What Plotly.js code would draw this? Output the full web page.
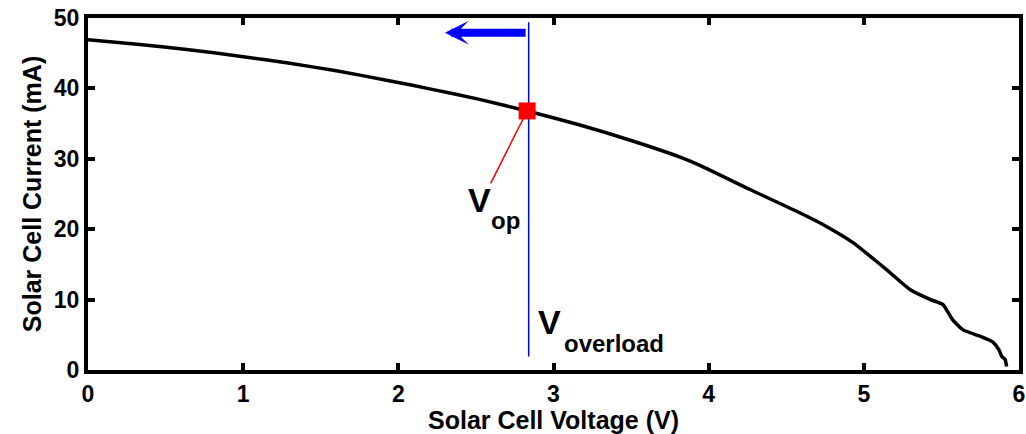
<!DOCTYPE html>
<html>
<head>
<meta charset="utf-8">
<script src="https://cdn.plot.ly/plotly-3.0.1.min.js"></script>
<style>html,body{margin:0;padding:0;background:#fff;}#chart{width:1026px;height:434px;}</style>
</head>
<body>
<div id="chart"></div>
<script>
// I-V curve of the solar cell
const voltage = [0, 0.30, 0.65, 1.00, 1.29, 1.60, 1.94, 2.21, 2.53, 2.83, 3.17, 3.50, 3.82, 3.95, 4.27, 4.59, 4.75, 4.93, 5.05, 5.15, 5.30, 5.43, 5.51, 5.54, 5.57, 5.64, 5.75, 5.83, 5.87, 5.89, 5.91, 5.92];
const current = [46.9, 46.3, 45.5, 44.5, 43.6, 42.5, 41.1, 39.9, 38.4, 36.8, 34.8, 32.6, 30.2, 29.0, 25.6, 22.3, 20.5, 18.1, 16.0, 14.2, 11.4, 10.0, 9.3, 8.3, 7.2, 5.7, 4.8, 4.0, 2.9, 1.9, 1.5, 0.5];

// operating point and overload voltage
const opPoint = {v: 2.83, i: 36.8};
const overloadV = [2.84, 2.84];
const overloadI = [1.9, 49.4];
const opLeaderV = [2.595, 2.83];
const opLeaderI = [26.5, 36.8];
const arrowTail = {v: 2.83, i: 47.9};
const arrowTip = {v: 2.30, i: 47.9};

const xTicks = [0, 1, 2, 3, 4, 5, 6];
const yTicks = [0, 10, 20, 30, 40, 50];

const fontFam = 'Arial, "Liberation Sans", sans-serif';

const traces = [
  {x: voltage, y: current, mode: 'lines', line: {color: '#000', width: 3.5, shape: 'spline', smoothing: 0.6}, hoverinfo: 'skip'},
  {x: overloadV, y: overloadI, mode: 'lines', line: {color: '#0000ff', width: 1.5}},
  {x: opLeaderV, y: opLeaderI, mode: 'lines', line: {color: '#ff0000', width: 1.5}},
  {x: [opPoint.v], y: [opPoint.i], mode: 'markers', marker: {symbol: 'square', size: 17, color: '#ff0000'}}
];

const axisCommon = {
  showline: true, linecolor: '#000', linewidth: 4, mirror: 'allticks',
  ticks: 'inside', ticklen: 7, tickwidth: 4, tickcolor: '#000',
  showgrid: false, zeroline: false,
  tickfont: {family: fontFam, size: 23, color: '#000', weight: 700}
};

const bigFont = {family: fontFam, size: 34, color: '#000', weight: 700};
const subFont = {family: fontFam, size: 24, color: '#000', weight: 700};

const layout = {
  width: 1026, height: 434,
  margin: {l: 88, r: 7, t: 18, b: 64},
  paper_bgcolor: '#fff', plot_bgcolor: '#fff',
  showlegend: false,
  xaxis: Object.assign({}, axisCommon, {
    range: [0, 6], tickvals: xTicks, ticktext: xTicks.map(String),
    title: {text: 'Solar Cell Voltage (V)', font: {family: fontFam, size: 25, color: '#000', weight: 700}, standoff: 4}
  }),
  yaxis: Object.assign({}, axisCommon, {
    range: [0, 50], tickvals: yTicks, ticktext: yTicks.map(String),
    title: {text: 'Solar Cell Current (mA)', font: {family: fontFam, size: 25, color: '#000', weight: 700}, standoff: 6}
  }),
  annotations: [
    {x: arrowTip.v, y: arrowTip.i, ax: arrowTail.v, ay: arrowTail.i, axref: 'x', ayref: 'y', xref: 'x', yref: 'y',
     showarrow: true, arrowhead: 3, arrowsize: 0.5, arrowwidth: 8, arrowcolor: '#0000ff', text: ''},
    {x: 2.435, y: 24.1, xref: 'x', yref: 'y', xanchor: 'left', yanchor: 'middle', showarrow: false,
     text: 'V', font: bigFont},
    {x: 2.585, y: 21.3, xref: 'x', yref: 'y', xanchor: 'left', yanchor: 'middle', showarrow: false,
     text: 'op', font: subFont},
    {x: 2.89, y: 6.8, xref: 'x', yref: 'y', xanchor: 'left', yanchor: 'middle', showarrow: false,
     text: 'V', font: bigFont},
    {x: 3.055, y: 3.76, xref: 'x', yref: 'y', xanchor: 'left', yanchor: 'middle', showarrow: false,
     text: 'overload', font: subFont}
  ]
};

Plotly.newPlot('chart', traces, layout, {displayModeBar: false, staticPlot: true});
</script>
</body>
</html>
